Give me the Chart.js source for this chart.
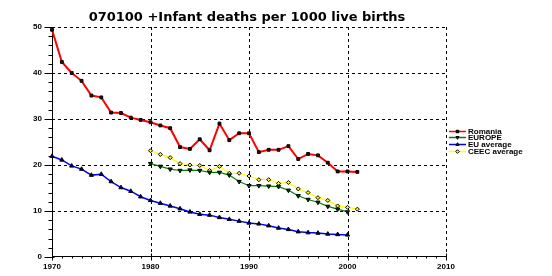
<!DOCTYPE html>
<html>
<head>
<meta charset="utf-8">
<script src="https://cdn.jsdelivr.net/npm/chart.js@4.4.1/dist/chart.umd.min.js"></script>
<style>
html,body{margin:0;padding:0;background:#fff;}
canvas{display:block;}
</style>
</head>
<body>
<canvas id="c" width="552" height="276"></canvas>
<script>
const titleText = '070100 +Infant deaths per 1000 live births';
const years = [1970,1971,1972,1973,1974,1975,1976,1977,1978,1979,1980,1981,1982,1983,1984,1985,1986,1987,1988,1989,1990,1991,1992,1993,1994,1995,1996,1997,1998,1999,2000,2001];
const romania = [49.4,42.4,40.0,38.3,35.1,34.7,31.4,31.3,30.3,29.8,29.3,28.6,28.0,23.9,23.5,25.6,23.2,29.0,25.4,26.9,26.9,22.8,23.3,23.3,24.1,21.3,22.4,22.1,20.5,18.6,18.6,18.5];
const europe = [null,null,null,null,null,null,null,null,null,null,20.3,19.7,19.1,18.8,18.9,18.8,18.4,18.4,17.8,16.4,15.5,15.5,15.4,15.3,14.5,13.3,12.5,11.9,11.0,10.4,9.8,null];
const euAverage = [21.9,21.1,19.8,19.1,17.8,18.0,16.4,15.1,14.3,13.1,12.3,11.7,11.1,10.5,9.8,9.3,9.1,8.6,8.2,7.8,7.4,7.2,6.8,6.3,6.0,5.5,5.3,5.2,5.0,4.9,4.8,null];
const ceecAverage = [null,null,null,null,null,null,null,null,null,null,23.1,22.3,21.6,20.3,20.0,19.9,18.8,19.7,18.2,18.2,17.6,16.8,16.8,16.0,16.2,14.8,14.0,12.9,12.3,11.1,10.8,10.4];
const xTicks = [1970,1980,1990,2000,2010];
const yTicks = [0,10,20,30,40,50];
const xMinorStep = 1;
const yMinorStep = 2;

function pts(vals){ return years.map((yr,i)=>({x:yr,y:vals[i]})).filter(p=>p.y!==null); }

function drawMarker(ctx, style, x, y, r, rot, fill, stroke){
  ctx.save();
  ctx.fillStyle = fill; ctx.strokeStyle = stroke; ctx.lineWidth = 1; ctx.setLineDash([]);
  ctx.beginPath();
  if(style==='rect'){ const s=r*Math.SQRT1_2; ctx.rect(x-s,y-s,2*s,2*s); }
  else if(style==='rectRot'){ ctx.moveTo(x,y-r); ctx.lineTo(x+r,y); ctx.lineTo(x,y+r); ctx.lineTo(x-r,y); ctx.closePath(); }
  else if(style==='triangle'){
    const d = rot===180 ? -1 : 1;
    ctx.moveTo(x, y - d*r); ctx.lineTo(x + r*0.866, y + d*r*0.5); ctx.lineTo(x - r*0.866, y + d*r*0.5); ctx.closePath();
  }
  ctx.fill(); ctx.stroke();
  ctx.restore();
}

const decor = {
  id:'decor',
  beforeDatasetsDraw(chart){
    const {ctx, chartArea:a, scales:{x,y}} = chart;
    ctx.save();
    ctx.strokeStyle = '#000'; ctx.lineWidth = 1;
    ctx.setLineDash([3,3]);
    yTicks.slice(1).forEach(v=>{
      const py = Math.round(y.getPixelForValue(v))+0.5;
      ctx.beginPath(); ctx.moveTo(a.left,py); ctx.lineTo(a.right,py); ctx.stroke();
    });
    xTicks.slice(1).forEach(v=>{
      const px = Math.round(x.getPixelForValue(v))+0.5;
      ctx.beginPath(); ctx.moveTo(px,a.top); ctx.lineTo(px,a.bottom); ctx.stroke();
    });
    ctx.setLineDash([]);
    const ax = Math.round(a.left)+0.5, ay = Math.round(a.bottom)-0.5;
    ctx.beginPath(); ctx.moveTo(ax,a.top); ctx.lineTo(ax,ay); ctx.lineTo(a.right,ay); ctx.stroke();
    for(let v=y.min; v<=y.max+1e-9; v+=yMinorStep){
      const py = Math.round(y.getPixelForValue(v))+0.5;
      const major = yTicks.includes(v);
      ctx.beginPath(); ctx.moveTo(ax-(major?8:4),py); ctx.lineTo(ax+(major?2:0),py); ctx.stroke();
    }
    for(let v=x.min; v<=x.max+1e-9; v+=xMinorStep){
      const px = Math.round(x.getPixelForValue(v))+0.5;
      const major = xTicks.includes(v);
      ctx.beginPath(); ctx.moveTo(px,ay-(major?3:0)); ctx.lineTo(px,ay+(major?4:2)); ctx.stroke();
    }
    ctx.restore();
  },
  afterDraw(chart){
    const {ctx} = chart;
    ctx.save();
    ctx.fillStyle = '#000';
    ctx.font = 'bold 13px "DejaVu Sans"';
    ctx.textAlign = 'center'; ctx.textBaseline = 'middle';
    ctx.fillText(titleText, 247, 18);
    ctx.font = 'bold 8px "Liberation Sans"';
    ctx.textAlign = 'left';
    chart.data.datasets.forEach((ds,i)=>{
      const ly = Math.round(130.5 + i*6.8)+0.5;
      ctx.strokeStyle = ds.borderColor; ctx.lineWidth = 1.5; ctx.setLineDash([]);
      ctx.beginPath(); ctx.moveTo(449,ly); ctx.lineTo(466,ly); ctx.stroke();
      drawMarker(ctx, ds.pointStyle, 457.5, ly, 1.8, ds.pointRotation||0, ds.pointBackgroundColor, ds.pointBorderColor);
      ctx.fillStyle = '#000';
      ctx.fillText(ds.label, 468, ly);
    });
    ctx.restore();
  }
};

const common = {fill:false, tension:0, clip:false, pointBorderWidth:1, pointHoverRadius:2};

new Chart(document.getElementById('c'), {
  type:'line',
  data:{datasets:[
    Object.assign({label:'Romania', data:pts(romania), borderColor:'#ff0000', borderWidth:2, pointStyle:'rect', pointRadius:2, pointBackgroundColor:'#500000', pointBorderColor:'#000'}, common),
    Object.assign({label:'EUROPE', data:pts(europe), borderColor:'#008000', borderWidth:1.2, pointStyle:'triangle', pointRotation:180, pointRadius:2.4, pointBackgroundColor:'#004000', pointBorderColor:'#000'}, common),
    Object.assign({label:'EU average', data:pts(euAverage), borderColor:'#0000ff', borderWidth:1.5, pointStyle:'triangle', pointRadius:2.4, pointBackgroundColor:'#000060', pointBorderColor:'#000'}, common),
    Object.assign({label:'CEEC average', data:pts(ceecAverage), borderColor:'#ffff00', borderWidth:1.2, pointStyle:'rectRot', pointRadius:2, pointBackgroundColor:'#ffff00', pointBorderColor:'#000'}, common)
  ]},
  options:{
    responsive:false, animation:false, devicePixelRatio:1,
    layout:{padding:{top:27, right:106, left:0, bottom:0}},
    plugins:{legend:{display:false}, title:{display:false}, tooltip:{enabled:false}},
    scales:{
      x:{type:'linear', min:1970, max:2010,
        afterFit(s){ s.height = 19; },
        afterBuildTicks(s){ s.ticks = xTicks.map(v=>({value:v})); },
        grid:{display:false, drawTicks:false}, border:{display:false},
        ticks:{padding:5, color:'#000', font:{family:'Liberation Sans', size:8, weight:'bold'}, maxRotation:0, autoSkip:false, callback:v=>String(v)}},
      y:{type:'linear', min:0, max:50,
        afterFit(s){ s.width = 52; },
        afterBuildTicks(s){ s.ticks = yTicks.map(v=>({value:v})); },
        grid:{display:false, drawTicks:false}, border:{display:false},
        ticks:{padding:10, color:'#000', font:{family:'Liberation Sans', size:8, weight:'bold'}, callback:v=>String(v)}}
    }
  },
  plugins:[decor]
});
</script>
</body>
</html>
